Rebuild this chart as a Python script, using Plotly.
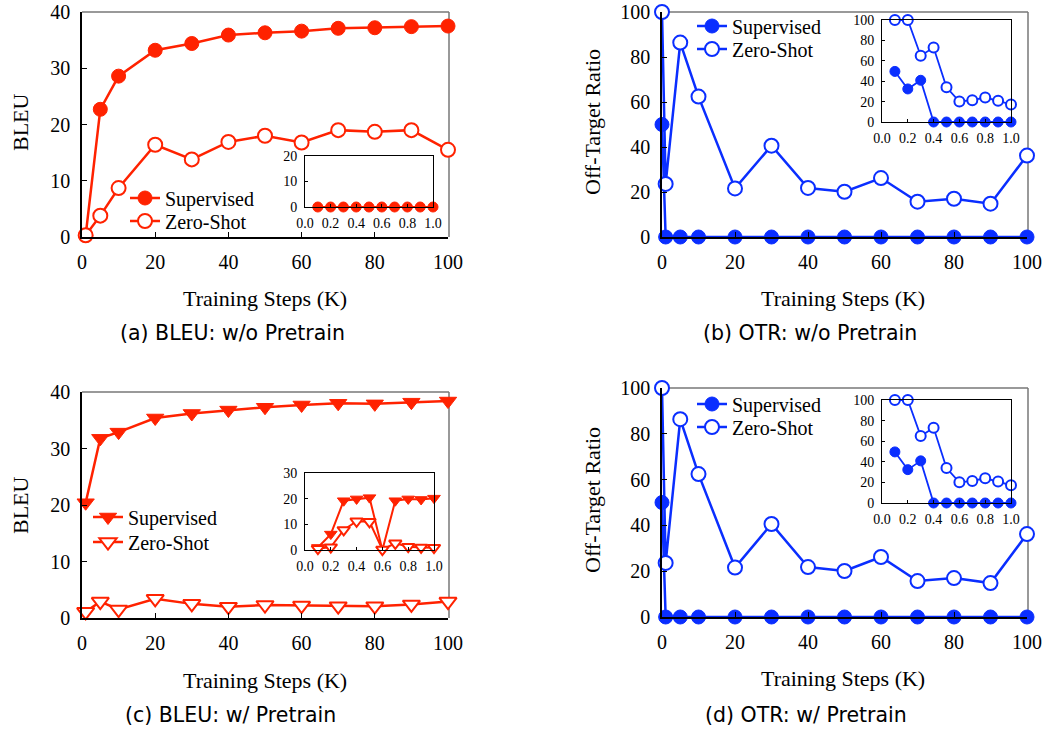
import plotly.graph_objects as go

W, H = 1046, 733
RED = '#FF2200'
BLUE = '#0A2EFF'
SERIF = 'Liberation Serif'
SANS = 'DejaVu Sans'

# ---------------- data ----------------
steps_bleu = [1, 5, 10, 20, 30, 40, 50, 60, 70, 80, 90, 100]
steps_otr = [0, 1, 5, 10, 20, 30, 40, 50, 60, 70, 80, 90, 100]
inset_x = [0.1, 0.2, 0.3, 0.4, 0.5, 0.6, 0.7, 0.8, 0.9, 1.0]

a_sup = [0.3, 22.7, 28.6, 33.2, 34.4, 35.9, 36.3, 36.6, 37.1, 37.2, 37.4, 37.5]
a_zero = [0.3, 3.8, 8.7, 16.4, 13.8, 16.9, 18.0, 16.8, 19.0, 18.7, 19.0, 15.5]
a_in_sup = [0, 0, 0, 0, 0, 0, 0, 0, 0, 0]

b_sup = [50, 0, 0, 0, 0, 0, 0, 0, 0, 0, 0, 0, 0]
b_zero = [100, 23.6, 86.4, 62.4, 21.6, 40.6, 21.8, 20.1, 26.2, 15.7, 17.0, 14.8, 36.2]
b_in_sup = [49.6, 32.4, 40.9, 0, 0, 0, 0, 0, 0, 0]
b_in_zero = [100, 100, 65, 73, 34, 20.1, 21.4, 24, 20.8, 17.2]

c_sup = [20.4, 31.8, 32.9, 35.4, 36.2, 36.8, 37.3, 37.7, 38.0, 37.9, 38.2, 38.4]
c_zero = [1.1, 2.9, 1.5, 3.4, 2.5, 2.0, 2.3, 2.2, 2.1, 2.1, 2.4, 2.9]
c_in_sup = [1.0, 6.2, 19.2, 19.9, 20.4, 0, 19.2, 19.9, 19.7, 20.2]
c_in_zero = [0.5, 1.1, 7.8, 11.2, 11.0, 0.2, 2.6, 1.3, 1.0, 0.9]

d_sup = b_sup
d_zero = b_zero
d_in_sup = b_in_sup
d_in_zero = b_in_zero

legend_names = ['Supervised', 'Zero-Shot']
captions = ['(a) BLEU: w/o Pretrain', '(b) OTR: w/o Pretrain',
            '(c) BLEU: w/ Pretrain', '(d) OTR: w/ Pretrain']
x_title = 'Training Steps (K)'
y_titles = ['BLEU', 'Off-Target Ratio', 'BLEU', 'Off-Target Ratio']


def fx(px):
    return px / W


def fy(py):
    return 1 - py / H


fig = go.Figure()


def add_pair(xs, ys_sup, ys_zero, color, sym, ax, legends, size, lw, show):
    fig.add_trace(go.Scatter(
        x=xs, y=ys_sup, mode='lines+markers', name=legend_names[0],
        line=dict(color=color, width=lw),
        marker=dict(symbol=sym, size=size, color=color, line=dict(color=color, width=1)),
        xaxis='x' + ax, yaxis='y' + ax, legend=legends[0], showlegend=show,
        cliponaxis=False))
    if ys_zero is not None:
        fig.add_trace(go.Scatter(
            x=xs, y=ys_zero, mode='lines+markers', name=legend_names[1],
            line=dict(color=color, width=lw),
            marker=dict(symbol=sym, size=size, color='white', line=dict(color=color, width=2)),
            xaxis='x' + ax, yaxis='y' + ax, legend=legends[1], showlegend=show,
            cliponaxis=False))


# main panels
add_pair(steps_bleu, a_sup, a_zero, RED, 'circle', '', ('legend', 'legend2'), 14, 2.5, True)
add_pair(steps_otr, b_sup, b_zero, BLUE, 'circle', '3', ('legend3', 'legend4'), 14, 2.5, True)
add_pair(steps_bleu, c_sup, c_zero, RED, 'triangle-down', '5', ('legend5', 'legend6'), 15, 2.5, True)
add_pair(steps_otr, d_sup, d_zero, BLUE, 'circle', '7', ('legend7', 'legend8'), 14, 2.5, True)
# insets
add_pair(inset_x, a_in_sup, None, RED, 'circle', '2', ('legend', 'legend2'), 10, 2, False)
add_pair(inset_x, b_in_sup, b_in_zero, BLUE, 'circle', '4', ('legend3', 'legend4'), 10, 1.8, False)
add_pair(inset_x, c_in_sup, c_in_zero, RED, 'triangle-down', '6', ('legend5', 'legend6'), 11, 2, False)
add_pair(inset_x, d_in_sup, d_in_zero, BLUE, 'circle', '8', ('legend7', 'legend8'), 10, 1.8, False)

main_tick_font = dict(family=SERIF, size=20, color='black')
inset_tick_font = dict(family=SERIF, size=14, color='black')

layout = dict(
    width=W, height=H, margin=dict(l=0, r=0, t=0, b=0, autoexpand=False),
    paper_bgcolor='white', plot_bgcolor='rgba(0,0,0,0)',
    showlegend=True,
)

mains = [
    (1, 82, 448, 12, 237, [0, 40], 10),
    (3, 662, 1027, 12, 237, [0, 100], 20),
    (5, 82, 448, 392, 618, [0, 40], 10),
    (7, 662, 1027, 388, 617, [0, 100], 20),
]
insets = [
    (2, 305, 433, 156, 207, [0, 20], 10),
    (4, 882, 1011, 20, 122, [0, 100], 20),
    (6, 305, 434, 473, 550, [0, 30], 10),
    (8, 882, 1011, 400, 503, [0, 100], 20),
]


def key(prefix, i):
    return prefix + ('axis' if i == 1 else 'axis%d' % i)


def anchor(prefix, i):
    return prefix if i == 1 else '%s%d' % (prefix, i)


shapes = []
for (i, x0, x1, yt, yb, yr, dt) in mains:
    layout[key('x', i)] = dict(
        domain=[fx(x0), fx(x1)], range=[0, 100], anchor=anchor('y', i), automargin=False,
        tickvals=[0, 20, 40, 60, 80, 100], ticks='inside', ticklen=5, tickcolor='black',
        showline=True, linecolor='black', linewidth=1.5, showgrid=False, zeroline=False,
        tickfont=main_tick_font, ticklabelstandoff=6, ticklabeloverflow='allow')
    layout[key('y', i)] = dict(
        domain=[fy(yb), fy(yt)], range=yr, anchor=anchor('x', i), automargin=False,
        dtick=dt, ticks='inside', ticklen=5, tickcolor='black',
        showline=True, linecolor='black', linewidth=1.5, showgrid=False, zeroline=False,
        tickfont=main_tick_font, ticklabelstandoff=6, ticklabeloverflow='allow')
    shapes.append(dict(type='line', xref='paper', yref='paper', x0=fx(x0), x1=fx(x1 + 1),
                       y0=fy(yt), y1=fy(yt), line=dict(color='#777777', width=1.5), layer='below'))
    shapes.append(dict(type='line', xref='paper', yref='paper', x0=fx(x1 + 1), x1=fx(x1 + 1),
                       y0=fy(yt), y1=fy(yb), line=dict(color='#777777', width=1.5), layer='below'))

for (i, x0, x1, yt, yb, yr, dt) in insets:
    layout[key('x', i)] = dict(
        domain=[fx(x0), fx(x1)], range=[0, 1], anchor=anchor('y', i), automargin=False,
        tickvals=[0, 0.2, 0.4, 0.6, 0.8, 1.0], ticktext=['0.0', '0.2', '0.4', '0.6', '0.8', '1.0'],
        ticks='inside', ticklen=3, tickcolor='black',
        showline=True, mirror=True, linecolor='black', linewidth=1, showgrid=False, zeroline=False,
        tickfont=inset_tick_font, ticklabelstandoff=3, ticklabeloverflow='allow')
    layout[key('y', i)] = dict(
        domain=[fy(yb), fy(yt)], range=yr, anchor=anchor('x', i), automargin=False,
        dtick=dt, ticks='inside', ticklen=3, tickcolor='black',
        showline=True, mirror=True, linecolor='black', linewidth=1, showgrid=False, zeroline=False,
        tickfont=inset_tick_font, ticklabelstandoff=4, ticklabeloverflow='allow')

leg_common = dict(font=dict(family=SERIF, size=20, color='black'), bgcolor='rgba(0,0,0,0)',
                  xanchor='left', yanchor='middle', tracegroupgap=0, itemwidth=30)
legend_pos = [(125, 198), (125, 221), (692, 26), (692, 49),
              (88, 517), (88, 542), (692, 404), (692, 427)]
for k, (lx, ly) in enumerate(legend_pos):
    name = 'legend' if k == 0 else 'legend%d' % (k + 1)
    layout[name] = dict(x=fx(lx), y=fy(ly), **leg_common)

annotations = []
for (xc, yc, t) in [(265, 298, x_title), (843, 298, x_title), (265, 680, x_title), (843, 678, x_title)]:
    annotations.append(dict(x=fx(xc), y=fy(yc), xref='paper', yref='paper', text=t, showarrow=False,
                            font=dict(family=SERIF, size=22, color='black'), xanchor='center', yanchor='middle'))
for (xc, yc, t) in [(20, 122, y_titles[0]), (592, 122, y_titles[1]), (20, 505, y_titles[2]), (592, 500, y_titles[3])]:
    annotations.append(dict(x=fx(xc), y=fy(yc), xref='paper', yref='paper', text=t, showarrow=False,
                            textangle=-90, font=dict(family=SERIF, size=22, color='black'),
                            xanchor='center', yanchor='middle'))
for (xc, yc, t) in [(232, 333, captions[0]), (810, 333, captions[1]), (230, 715, captions[2]), (806, 715, captions[3])]:
    annotations.append(dict(x=fx(xc), y=fy(yc), xref='paper', yref='paper', text=t, showarrow=False,
                            font=dict(family=SANS, size=20.5, color='black'), xanchor='center', yanchor='middle'))

layout['annotations'] = annotations
layout['shapes'] = shapes
fig.update_layout(**layout)
fig.write_html('out.html', config={'displayModeBar': False},
               post_script="document.body.style.margin='0';document.body.style.overflow='hidden';")
